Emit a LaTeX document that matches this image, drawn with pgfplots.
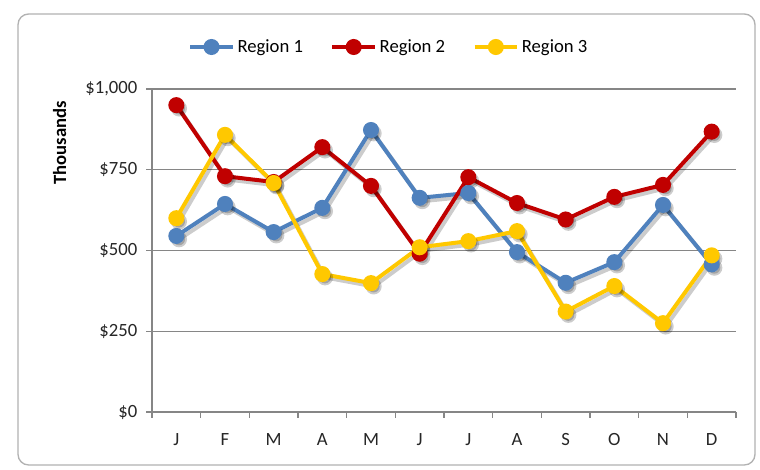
\documentclass[border=0pt]{standalone}
\usepackage{pgfplots}
\pgfplotsset{compat=1.18}
\usepackage{fontspec}
\setmainfont{Carlito}

\definecolor{reg1}{HTML}{4F81BD}
\definecolor{reg2}{HTML}{C00000}
\definecolor{reg3}{HTML}{FFC800}
\definecolor{gridgray}{HTML}{868686}

% monthly values, thousands of dollars
\pgfplotstableread{
x r1  r2  r3
0 545 950 600
1 644 730 858
2 557 712 709
3 632 820 427
4 873 700 399
5 663 490 510
6 678 727 529
7 495 647 560
8 400 596 311
9 464 666 390
10 641 703 275
11 457 868 485
}\sales

\begin{document}
\begin{tikzpicture}
\path[fill=white] (0,0) rectangle (570pt,352.5pt);
\draw[gray!60, line width=1pt, rounded corners=8pt] (13.5pt,3.75pt) rectangle (566.25pt,342pt);
\begin{axis}[
    at={(114pt,43.5pt)}, anchor=south west,
    scale only axis, width=438pt, height=242.25pt,
    xmin=-0.5, xmax=11.5, ymin=0, ymax=1000,
    axis x line*=bottom, axis y line*=left,
    axis line style={gridgray, line width=0.8pt, -},
    xtick={0,...,11},
    xticklabels={J,F,M,A,M,J,J,A,S,O,N,D},
    minor xtick={-0.5,0.5,...,11.5},
    major x tick style={draw=none},
    minor x tick style={gridgray, line width=0.8pt},
    minor tick length=4.5pt,
    ytick={0,250,500,750,1000},
    yticklabels={\$0,\$250,\$500,\$750,\$1{,}000},
    y tick style={gridgray, line width=0.8pt},
    major tick length=4.5pt,
    tick align=outside,
    ymajorgrids, grid style={gridgray, line width=0.8pt},
    tick label style={font=\fontsize{14}{16}\selectfont, text=black!85},
    yticklabel style={xshift=-3pt},
    xticklabel style={yshift=-8pt},
    ylabel={\textbf{Thousands}},
    ylabel style={at={(axis description cs:-0.158,0.833)}, anchor=center,
        font=\fontsize{14}{16}\selectfont},
    legend columns=3,
    legend style={at={(axis description cs:0.406,1.13)}, anchor=center,
        draw=none, fill=none, font=\fontsize{14}{16}\selectfont,
        /tikz/every even column/.append style={column sep=18.5pt}},
    legend image code/.code={
        \draw[#1, line width=3pt] (0pt,0pt) -- (32pt,0pt);
        \fill[#1] (16pt,0pt) circle (4.5pt);},
    every axis plot/.append style={line width=3pt, mark=*, mark size=4.5pt},
    clip=false,
]
% soft shadows
\addplot[black, opacity=0.2, shift={(2pt,-2.5pt)}, forget plot] table[x=x,y=r1] {\sales};
\addplot[black, opacity=0.2, shift={(2pt,-2.5pt)}, forget plot] table[x=x,y=r2] {\sales};
\addplot[black, opacity=0.2, shift={(2pt,-2.5pt)}, forget plot] table[x=x,y=r3] {\sales};

\addplot[reg1, mark options={fill=reg1}] table[x=x,y=r1] {\sales};
\addlegendentry{Region 1}
\addplot[reg2, mark options={fill=reg2}] table[x=x,y=r2] {\sales};
\addlegendentry{Region 2}
\addplot[reg3, mark options={fill=reg3}] table[x=x,y=r3] {\sales};
\addlegendentry{Region 3}
\end{axis}
\end{tikzpicture}
\end{document}
